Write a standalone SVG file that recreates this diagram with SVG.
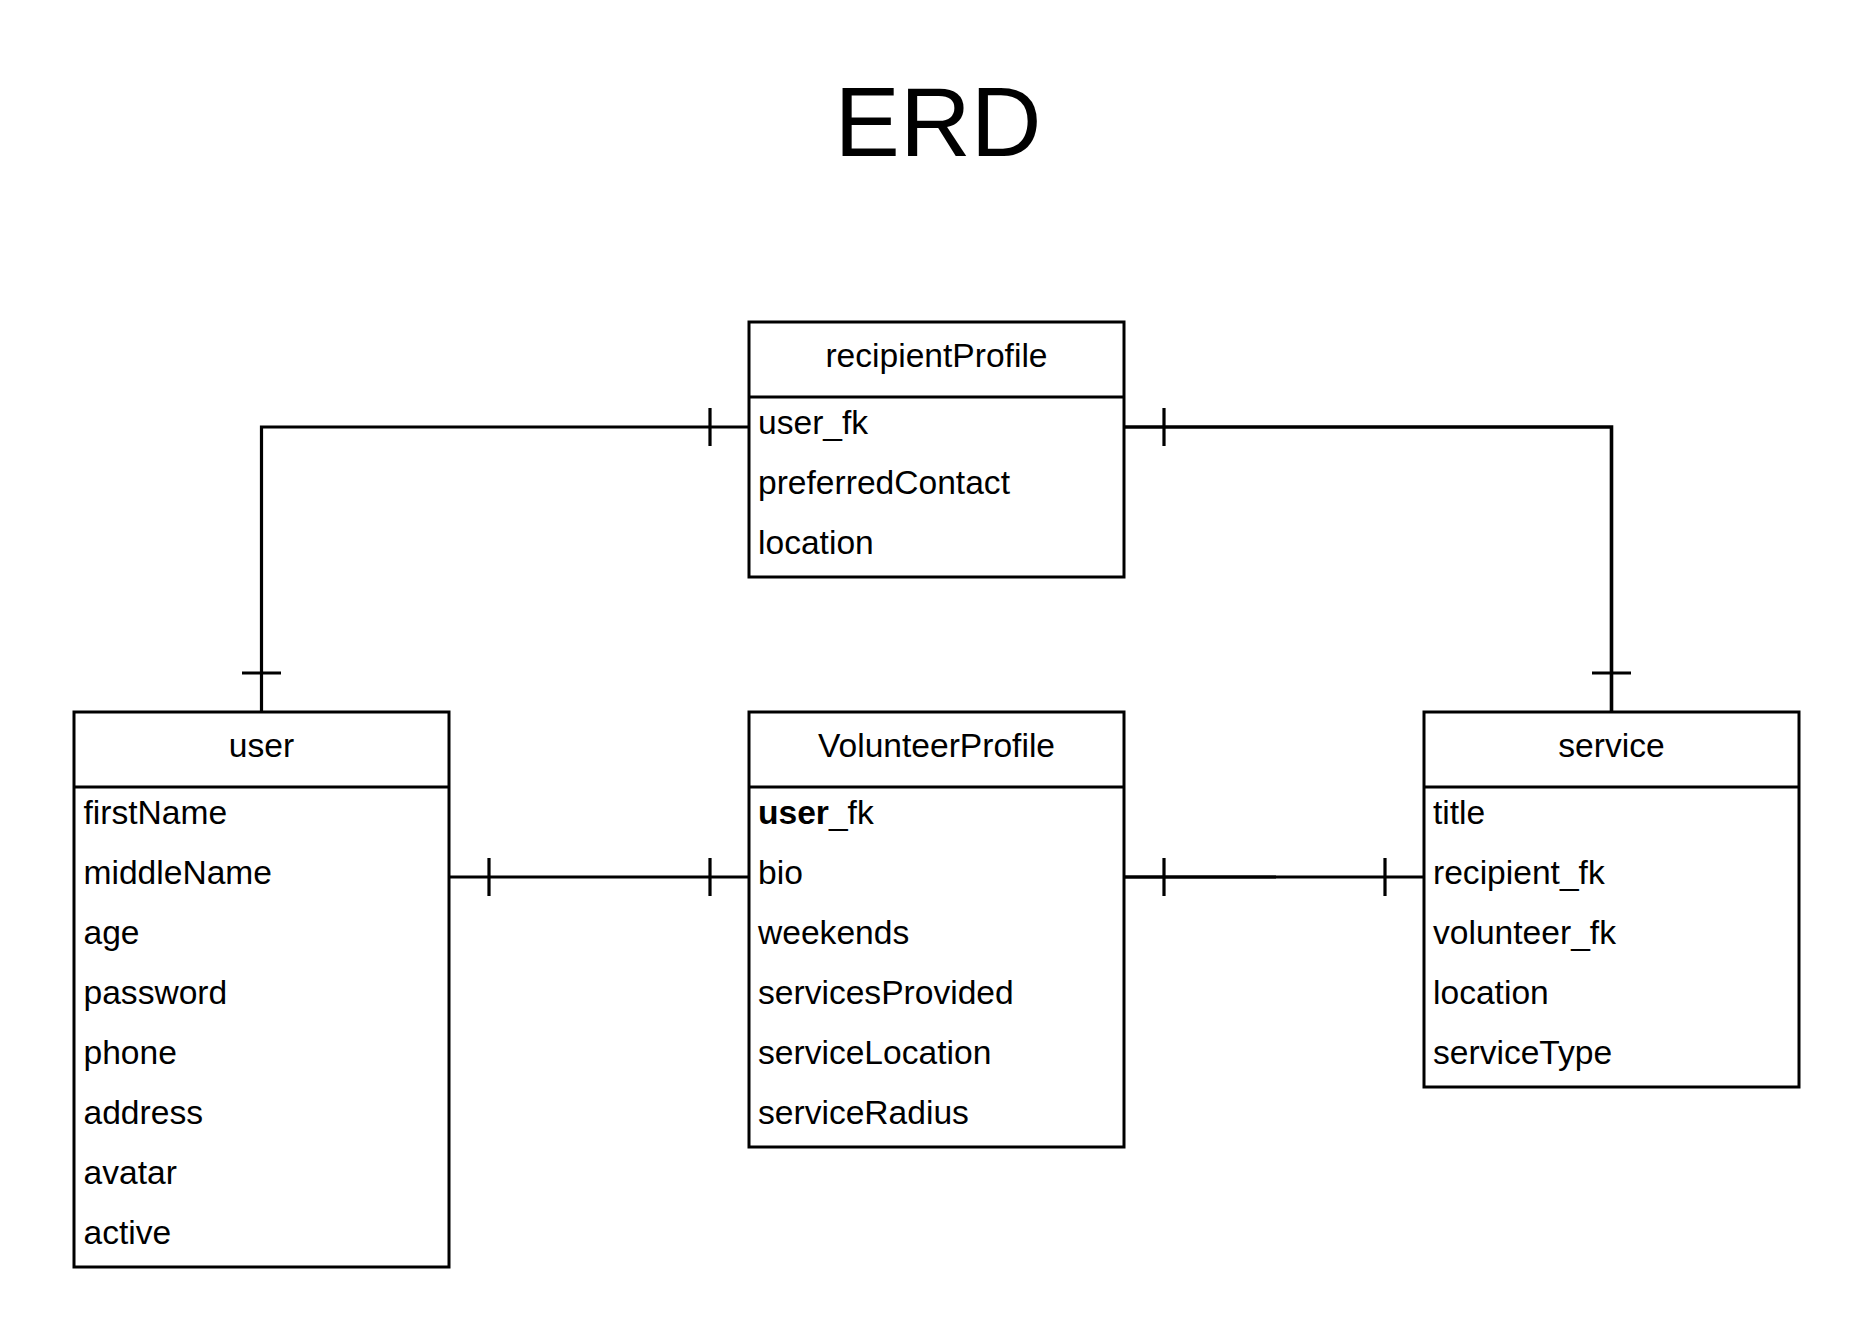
<svg xmlns="http://www.w3.org/2000/svg" width="1875" height="1343" viewBox="0 0 1875 1343">
<style>
.box{fill:#fff;stroke:#000;stroke-width:3}
.div{stroke:#000;stroke-width:3}
.c{fill:none;stroke:#000;stroke-width:3.2}
.t{font-family:"Liberation Sans",Arial,sans-serif;font-size:33.6px;fill:#000}
.h{text-anchor:middle}
.title{font-family:"Liberation Sans",Arial,sans-serif;font-size:98px;fill:#000;text-anchor:middle}
</style>
<rect width="1875" height="1343" fill="#fff"/>
<text class="title" x="938" y="155.5">ERD</text>
<g id="connectors">
<path class="c" d="M261.5,712 V427 H749"/>
<path class="c" d="M242,673 H281 M710,408 V446"/>
<path class="c" style="stroke-width:3.6" d="M1124,427 H1611.5 V712"/>
<path class="c" d="M1164,408 V446 M1592,673 H1631"/>
<path class="c" d="M449,877 H749"/>
<path class="c" d="M489,858 V896 M710,858 V896"/>
<path class="c" style="stroke-width:3.6" d="M1124,877 H1276"/>
<path class="c" d="M1276,877 H1424"/>
<path class="c" d="M1164,858 V896 M1385,858 V896"/>
</g>
<g id="recipientProfile">
<rect class="box" x="749" y="322" width="375" height="255"/>
<line class="div" x1="749" y1="397" x2="1124" y2="397"/>
<text class="t h" x="936.5" y="366.5">recipientProfile</text>
<text class="t" x="758" y="433.5">user_fk</text>
<text class="t" x="758" y="493.5">preferredContact</text>
<text class="t" x="758" y="553.5">location</text>
</g>
<g id="user">
<rect class="box" x="74" y="712" width="375" height="555"/>
<line class="div" x1="74" y1="787" x2="449" y2="787"/>
<text class="t h" x="261.5" y="756.5">user</text>
<text class="t" x="83.5" y="823.5">firstName</text>
<text class="t" x="83.5" y="883.5">middleName</text>
<text class="t" x="83.5" y="943.5">age</text>
<text class="t" x="83.5" y="1003.5">password</text>
<text class="t" x="83.5" y="1063.5">phone</text>
<text class="t" x="83.5" y="1123.5">address</text>
<text class="t" x="83.5" y="1183.5">avatar</text>
<text class="t" x="83.5" y="1243.5">active</text>
</g>
<g id="VolunteerProfile">
<rect class="box" x="749" y="712" width="375" height="435"/>
<line class="div" x1="749" y1="787" x2="1124" y2="787"/>
<text class="t h" x="936.5" y="756.5">VolunteerProfile</text>
<text class="t" x="758" y="823.5"><tspan font-weight="bold">user</tspan>_fk</text>
<text class="t" x="758" y="883.5">bio</text>
<text class="t" x="758" y="943.5">weekends</text>
<text class="t" x="758" y="1003.5">servicesProvided</text>
<text class="t" x="758" y="1063.5">serviceLocation</text>
<text class="t" x="758" y="1123.5">serviceRadius</text>
</g>
<g id="service">
<rect class="box" x="1424" y="712" width="375" height="375"/>
<line class="div" x1="1424" y1="787" x2="1799" y2="787"/>
<text class="t h" x="1611.5" y="756.5">service</text>
<text class="t" x="1433" y="823.5">title</text>
<text class="t" x="1433" y="883.5">recipient_fk</text>
<text class="t" x="1433" y="943.5">volunteer_fk</text>
<text class="t" x="1433" y="1003.5">location</text>
<text class="t" x="1433" y="1063.5">serviceType</text>
</g>
</svg>
